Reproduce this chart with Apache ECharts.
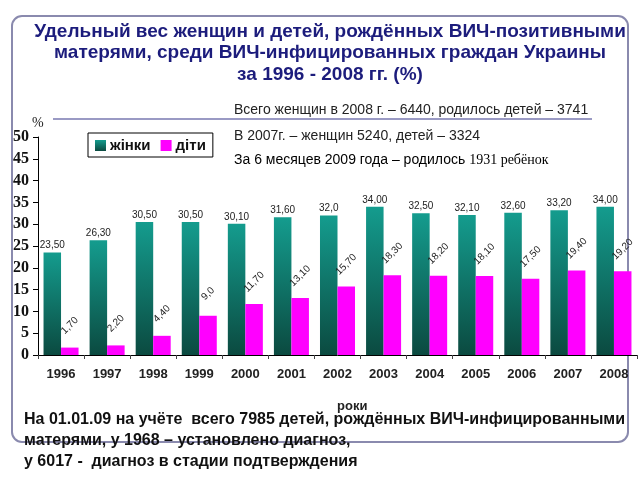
<!DOCTYPE html>
<html>
<head>
<meta charset="utf-8">
<script src="https://cdn.jsdelivr.net/npm/echarts@6/dist/echarts.min.js"></script>
<style>html,body{margin:0;padding:0;background:#fff}#c{width:640px;height:480px}</style>
</head>
<body>
<div id="c"></div>
<script>
var years = ['1996','1997','1998','1999','2000','2001','2002','2003','2004','2005','2006','2007','2008'];
var women = [23.5, 26.3, 30.5, 30.5, 30.1, 31.6, 32.0, 34.0, 32.5, 32.1, 32.6, 33.2, 34.0];
var womenLabels = ['23,50','26,30','30,50','30,50','30,10','31,60','32,0','34,00','32,50','32,10','32,60','33,20','34,00'];
var children = [1.7, 2.2, 4.4, 9.0, 11.7, 13.1, 15.7, 18.3, 18.2, 18.1, 17.5, 19.4, 19.2];
var childLabels = ['1,70','2,20','4,40','9,0','11,70','13,10','15,70','18,30','18,20','18,10','17,50','19,40','19,20'];
var seriesNames = ['жінки', 'діти'];
var titleLines = ['Удельный вес женщин и детей, рождённых ВИЧ-позитивными', 'матерями, среди ВИЧ-инфицированных граждан Украины', 'за 1996 - 2008 гг. (%)'];
var noteLines = ['Всего женщин в 2008 г. – 6440, родилось детей – 3741', 'В 2007г. – женщин 5240, детей – 3324'];
var bottomLines = ['На 01.01.09 на учёте  всего 7985 детей, рождённых ВИЧ-инфицированными', 'матерями, у 1968 – установлено диагноз,', 'у 6017 -  диагноз в стадии подтверждения'];

var chart = echarts.init(document.getElementById('c'));
var womenColor = new echarts.graphic.LinearGradient(0, 0, 0, 1, [
  {offset: 0, color: '#149c8e'}, {offset: 1, color: '#0b4a40'}
]);
chart.setOption({
  animation: false,
  backgroundColor: '#fff',
  title: {
    text: titleLines.join('\n'),
    left: 325, top: 16, textAlign: 'center',
    textStyle: {fontFamily: 'Liberation Sans', fontWeight: 'bold', fontSize: 19, color: '#1c1c7c', lineHeight: 21.5}
  },
  legend: {
    left: 88, top: 133, orient: 'horizontal',
    backgroundColor: '#fff', borderColor: '#000', borderWidth: 1,
    padding: [5, 7, 4, 7], itemGap: 10, itemWidth: 11, itemHeight: 11,
    icon: 'rect',
    textStyle: {fontFamily: 'Liberation Sans', fontWeight: 'bold', fontSize: 15, color: '#111', padding: [0,0,0,-1]},
    data: seriesNames
  },
  grid: {left: 38, right: 3, top: 137, bottom: 125},
  xAxis: {
    type: 'category', data: years,
    axisLine: {lineStyle: {color: '#000', width: 1}},
    axisTick: {show: true, length: 4, lineStyle: {color: '#444'}},
    axisLabel: {margin: 13, fontFamily: 'Liberation Sans', fontWeight: 'bold', fontSize: 13, color: '#222'}
  },
  yAxis: {
    type: 'value', min: 0, max: 50, interval: 5,
    splitLine: {show: false},
    axisLine: {show: true, lineStyle: {color: '#000', width: 1}},
    axisTick: {show: true, length: 5, lineStyle: {color: '#000'}},
    axisLabel: {margin: 9, fontFamily: 'Liberation Serif', fontWeight: 'bold', fontSize: 16, color: '#111'}
  },
  series: [
    {
      name: seriesNames[0], type: 'bar', data: women, barGap: '0%', barCategoryGap: '24%',
      itemStyle: {color: womenColor},
      label: {show: true, position: 'top', distance: 2, fontFamily: 'Liberation Sans', fontSize: 10, color: '#222',
        formatter: function (p) { return womenLabels[p.dataIndex]; }}
    },
    {
      name: seriesNames[1], type: 'bar', data: children,
      itemStyle: {color: '#ff00ff'},
      label: {show: true, position: 'top', distance: 22, rotate: 45, align: 'center', verticalAlign: 'middle',
        fontFamily: 'Liberation Sans', fontSize: 10, color: '#222',
        formatter: function (p) { return childLabels[p.dataIndex]; }}
    }
  ],
  graphic: [
    {type: 'rect', shape: {x: 12, y: 16, width: 616, height: 426, r: 10}, style: {fill: 'none', stroke: '#8a8aae', lineWidth: 2}, z: -1},
    {type: 'line', shape: {x1: 53, y1: 119, x2: 592, y2: 119}, style: {stroke: '#9a9ac4', lineWidth: 2}},
    {type: 'text', left: 32, top: 116, style: {text: '%', fontFamily: 'Liberation Serif', fontSize: 14, fill: '#222'}},
    {type: 'text', left: 234, top: 103, style: {text: noteLines[0], fontFamily: 'Liberation Sans', fontSize: 14, fill: '#222'}},
    {type: 'text', left: 234, top: 129, style: {text: noteLines[1], fontFamily: 'Liberation Sans', fontSize: 14, fill: '#222'}},
    {type: 'text', left: 234, top: 153, style: {
      text: '{a|За 6 месяцев 2009 года – родилось }{b|1931 ребёнок}',
      rich: {a: {fontFamily: 'Liberation Sans', fontSize: 14, color: '#222'}, b: {fontFamily: 'Liberation Serif', fontSize: 14, color: '#222'}}
    }},
    {type: 'text', left: 337, top: 400, style: {text: 'роки', fontFamily: 'Liberation Sans', fontWeight: 'bold', fontSize: 13, fill: '#222', align: 'center', verticalAlign: 'middle'}},
    {type: 'text', left: 24, top: 409, style: {text: bottomLines.join('\n'), fontFamily: 'Liberation Sans', fontWeight: 'bold', fontSize: 16, lineHeight: 21, fill: '#111'}}
  ]
});
</script>
</body>
</html>
